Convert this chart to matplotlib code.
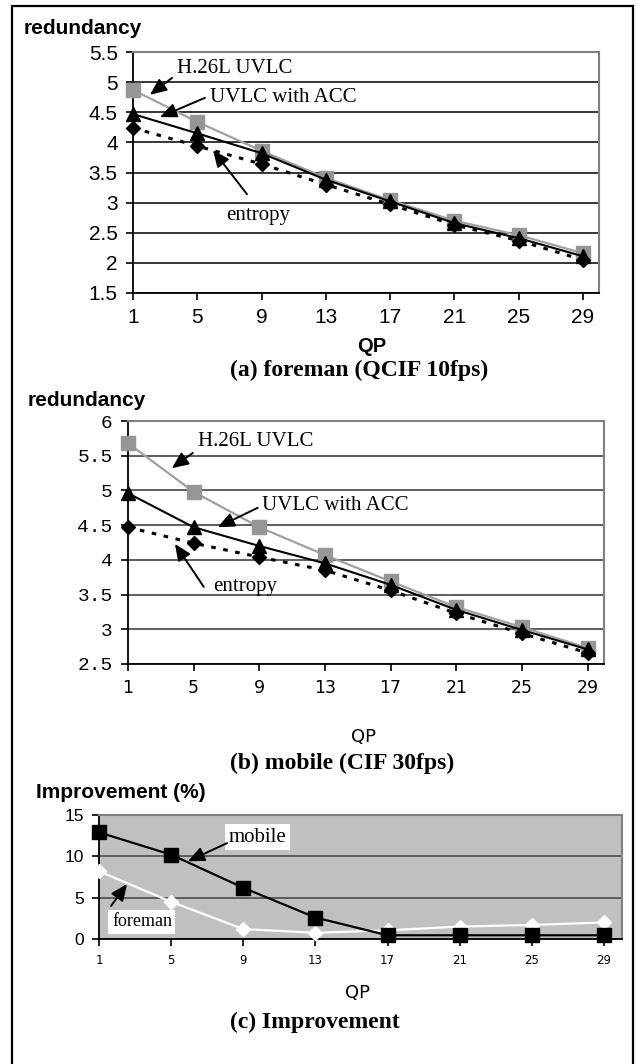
import matplotlib.pyplot as plt
from matplotlib.patches import Rectangle

# QP values on the x axis
qp = [1, 5, 9, 13, 17, 21, 25, 29]

# (a) foreman (QCIF 10fps)
foreman_uvlc = [4.87, 4.34, 3.86, 3.41, 3.04, 2.70, 2.46, 2.16]
foreman_acc = [4.47, 4.15, 3.82, 3.38, 3.02, 2.66, 2.41, 2.11]
foreman_entropy = [4.24, 3.94, 3.64, 3.30, 2.97, 2.63, 2.37, 2.05]
yticks_a = [1.5, 2, 2.5, 3, 3.5, 4, 4.5, 5, 5.5]

# (b) mobile (CIF 30fps)
mobile_uvlc = [5.68, 4.98, 4.47, 4.07, 3.69, 3.32, 3.03, 2.73]
mobile_acc = [4.96, 4.47, 4.20, 3.95, 3.64, 3.28, 2.99, 2.71]
mobile_entropy = [4.47, 4.24, 4.04, 3.85, 3.56, 3.23, 2.94, 2.66]
yticks_b = [2.5, 3, 3.5, 4, 4.5, 5, 5.5, 6]

# (c) improvement (%)
impr_mobile = [12.9, 10.2, 6.2, 2.6, 0.45, 0.45, 0.45, 0.45]
impr_foreman = [8.2, 4.5, 1.2, 0.75, 1.05, 1.5, 1.7, 2.0]
yticks_c = [0, 5, 10, 15]

W, H = 636, 1064
fig = plt.figure(figsize=(W / 100, H / 100), dpi=100)

SANS = 'Liberation Sans'
SERIF = 'Liberation Serif'


def box(l, t, r, b):
    return [l / W, 1 - b / H, (r - l) / W, (b - t) / H]


def fx(px):
    return px / W


def fy(py):
    return 1 - py / H


def style_axes(ax, grid_color, xlab_font, xlab_size, ylab_font, ylab_size):
    ax.set_xlim(1, 30)
    ax.set_xticks(qp)
    ax.set_xticklabels([str(q) for q in qp], family=xlab_font, fontsize=xlab_size)
    ax.yaxis.grid(True, color=grid_color, lw=1.1)
    ax.set_axisbelow(True)
    for s in ['top', 'right']:
        ax.spines[s].set_color('#808080')
        ax.spines[s].set_linewidth(1.5)
    for s in ['left', 'bottom']:
        ax.spines[s].set_color('black')
        ax.spines[s].set_linewidth(1.3)
    ax.tick_params(direction='out', length=5, width=1.2, pad=6)
    for lab in ax.get_yticklabels():
        lab.set_family(ylab_font)
        lab.set_fontsize(ylab_size)


def redundancy_panel(ax, uvlc, acc, ent, yticks, ylim):
    ax.plot(qp, uvlc, color='#a0a0a0', lw=1.6, marker='s', ms=10,
            mfc='#969696', mec='#969696', clip_on=False, zorder=3)
    ax.plot(qp, ent, color='black', lw=2.2, ls=(0, (1.5, 2.5)), marker='D', ms=7.5,
            mfc='black', mec='black', clip_on=False, zorder=4)
    ax.plot(qp, acc, color='black', lw=1.5, marker='^', ms=10,
            mfc='black', mec='black', clip_on=False, zorder=5)
    ax.set_ylim(*ylim)
    ax.set_yticks(yticks)
    ax.set_yticklabels([f'{v:g}' for v in yticks])


arrow = dict(arrowstyle='-|>,head_length=0.5,head_width=0.22', color='black', lw=1.4,
             mutation_scale=20, shrinkA=0, shrinkB=0)

# ---------- (a) ----------
ax1 = fig.add_axes(box(133, 52, 599, 293))
redundancy_panel(ax1, foreman_uvlc, foreman_acc, foreman_entropy, yticks_a, (1.5, 5.5))
style_axes(ax1, 'black', SANS, 15, SANS, 15)
ax1.text(7.3, 5.22, 'H.26L UVLC', family=SERIF, fontsize=15, ha='center', va='center')
ax1.annotate('', xy=(2.06, 4.79), xytext=(3.43, 5.07), arrowprops=arrow)
ax1.text(5.8, 4.75, 'UVLC with ACC', family=SERIF, fontsize=15, ha='left', va='center')
ax1.annotate('', xy=(2.68, 4.42), xytext=(5.48, 4.74), arrowprops=arrow)
ax1.text(8.78, 2.79, 'entropy', family=SERIF, fontsize=15, ha='center', va='center')
ax1.annotate('', xy=(5.98, 3.87), xytext=(8.09, 3.14), arrowprops=arrow)

fig.text(fx(24), fy(28), 'redundancy', family=SANS, weight='bold', fontsize=15, va='center')
fig.text(fx(372), fy(347), 'QP', family=SANS, weight='bold', fontsize=14.5, ha='center', va='center')
fig.text(fx(230), fy(370), '(a) foreman (QCIF 10fps)', family=SERIF, weight='bold',
         fontsize=17, ha='left', va='center')

# ---------- (b) ----------
ax2 = fig.add_axes(box(128, 421, 604, 664))
redundancy_panel(ax2, mobile_uvlc, mobile_acc, mobile_entropy, yticks_b, (2.5, 6))
style_axes(ax2, '#333333', 'DejaVu Sans', 12.5, 'Liberation Mono', 14)
ax2.text(5.25, 5.70, 'H.26L UVLC', family=SERIF, fontsize=15, ha='left', va='center')
ax2.annotate('', xy=(3.67, 5.32), xytext=(4.95, 5.54), arrowprops=arrow)
ax2.text(9.14, 4.78, 'UVLC with ACC', family=SERIF, fontsize=15, ha='left', va='center')
ax2.annotate('', xy=(6.47, 4.47), xytext=(8.9, 4.75), arrowprops=arrow)
ax2.text(6.16, 3.61, 'entropy', family=SERIF, fontsize=15, ha='left', va='center')
ax2.annotate('', xy=(3.86, 4.23), xytext=(5.62, 3.61), arrowprops=arrow)

fig.text(fx(28), fy(400), 'redundancy', family=SANS, weight='bold', fontsize=15, va='center')
fig.text(fx(364), fy(737), 'QP', family='DejaVu Sans', fontsize=13, ha='center', va='center')
fig.text(fx(230), fy(763), '(b) mobile (CIF 30fps)', family=SERIF, weight='bold',
         fontsize=17, ha='left', va='center')

# ---------- (c) ----------
ax3 = fig.add_axes(box(99, 815, 622, 939))
ax3.set_facecolor('#c0c0c0')
ax3.plot(qp, impr_foreman, color='white', lw=1.6, marker='D', ms=7,
         mfc='white', mec='white', clip_on=False, zorder=3)
ax3.plot(qp, impr_mobile, color='black', lw=1.6, marker='s', ms=10.5,
         mfc='black', mec='black', clip_on=False, zorder=4)
ax3.set_ylim(0, 15)
ax3.set_yticks(yticks_c)
ax3.set_yticklabels([str(v) for v in yticks_c])
style_axes(ax3, '#404040', 'DejaVu Sans', 8.5, SANS, 12.5)
ax3.text(9.81, 12.3, 'mobile', family=SERIF, fontsize=15, ha='center', va='center',
         bbox=dict(facecolor='white', edgecolor='none', pad=2.5))
ax3.annotate('', xy=(5.93, 9.4), xytext=(8.1, 11.6), arrowprops=arrow)
ax3.text(3.38, 2.06, 'foreman', family=SERIF, fontsize=13, ha='center', va='center',
         bbox=dict(facecolor='white', edgecolor='none', pad=2.5))
ax3.annotate('', xy=(2.55, 6.65), xytext=(1.67, 4.0), arrowprops=arrow)

fig.text(fx(36), fy(793), 'Improvement (%)', family=SANS, weight='bold', fontsize=15, va='center')
fig.text(fx(357), fy(993), 'QP', family='DejaVu Sans', fontsize=13, ha='center', va='center')
fig.text(fx(230), fy(1022), '(c) Improvement', family=SERIF, weight='bold',
         fontsize=17, ha='left', va='center')

# outer frame
fig.add_artist(Rectangle((fx(12), -0.01), fx(633) - fx(12), fy(6) + 0.01,
                         transform=fig.transFigure, fill=False, ec='black', lw=1.6))

fig.savefig('out.png', dpi=100)
